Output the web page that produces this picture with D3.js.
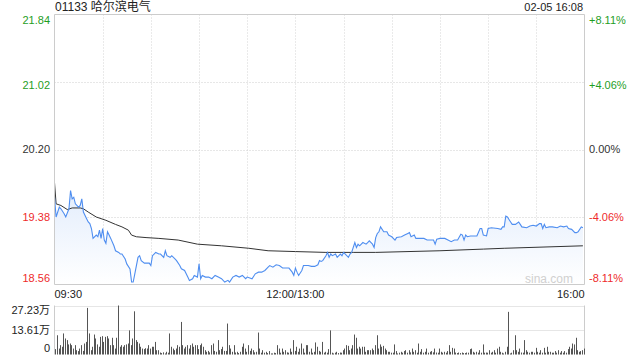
<!DOCTYPE html>
<html><head><meta charset="utf-8">
<script src="https://cdn.jsdelivr.net/npm/d3@7/dist/d3.min.js"></script>
<style>
html,body{margin:0;padding:0;background:#fff;}
svg{display:block;font-family:"Liberation Sans",Arial,sans-serif;}
</style></head>
<body><svg id="c" width="640" height="360"></svg>
<script>
const title = "01133 哈尔滨电气";
const stamp = "02-05 16:08";
const priceTicks = [21.84, 21.02, 20.20, 19.38, 18.56];
const priceTickLabels = ["21.84", "21.02", "20.20", "19.38", "18.56"];
const pctTickLabels = ["+8.11%", "+4.06%", "0.00%", "-4.06%", "-8.11%"];
const tickColors = ["#1f9e1f", "#1f9e1f", "#333333", "#ee2b2b", "#ee2b2b"];
const timeLabels = ["09:30", "12:00/13:00", "16:00"];
const timeLabelMinutes = [0, 150, 330];
const volTicks = [27.23, 13.61, 0];
const volTickLabels = ["27.23万", "13.61万", "0"];

// minute index (0..330) and price
const priceT = [0,1,3,4,6,7,9,10,11,12,13,15,16,17,18,20,21,22,23,24,26,27,28,29,30,31,32,33,34,35,37,38,40,41,42,44,45,47,48,49,50,52,53,54,56,57,59,60,61,62,63,65,66,68,69,70,72,73,75,76,78,79,81,83,84,86,87,89,90,91,92,94,96,98,100,102,104,106,108,109,111,113,115,117,119,120,123,125,127,129,131,133,134,136,138,140,142,144,146,148,149,150,151,152,154,155,158,160,162,164,165,166,167,169,170,171,172,173,175,176,178,179,180,183,184,185,187,188,189,190,192,194,195,196,198,199,200,201,202,203,205,207,208,210,212,213,216,218,220,221,222,224,225,228,230,232,234,236,237,238,240,243,245,247,249,251,253,254,255,256,257,259,261,263,265,266,267,269,270,272,276,278,279,280,281,282,284,285,287,289,290,291,294,296,298,300,302,303,304,305,306,308,310,313,315,317,319,320,322,324,325,326,328,329];
const priceV = [19.62,19.38,19.50,19.48,19.42,19.38,19.48,19.70,19.60,19.62,19.54,19.50,19.52,19.60,19.44,19.36,19.32,19.30,19.24,19.12,19.16,19.14,19.22,19.12,19.24,19.10,19.06,19.20,19.16,19.12,19.03,18.97,18.95,18.93,18.93,18.87,18.81,18.75,18.59,18.59,18.69,18.89,18.91,18.85,18.82,18.82,18.82,18.79,18.91,18.93,18.95,18.93,18.93,18.89,18.97,18.91,18.89,18.91,18.87,18.85,18.79,18.75,18.73,18.65,18.61,18.63,18.67,18.65,18.81,18.63,18.67,18.65,18.65,18.63,18.67,18.65,18.63,18.59,18.61,18.59,18.65,18.67,18.65,18.67,18.63,18.65,18.63,18.69,18.71,18.71,18.73,18.77,18.79,18.77,18.80,18.79,18.76,18.76,18.76,18.71,18.67,18.76,18.71,18.67,18.73,18.79,18.79,18.78,18.78,18.80,18.85,18.84,18.85,18.91,18.95,18.89,18.93,18.91,18.93,18.89,18.93,18.91,18.95,18.89,18.93,18.95,19.07,19.01,19.05,19.03,19.07,19.05,19.07,19.09,19.05,19.01,19.13,19.18,19.20,19.26,19.20,19.20,19.16,19.14,19.10,19.13,19.14,19.16,19.18,19.19,19.14,19.16,19.12,19.12,19.12,19.10,19.10,19.10,19.05,19.11,19.12,19.12,19.10,19.08,19.10,19.10,19.17,19.16,19.10,19.16,19.14,19.15,19.15,19.15,19.24,19.24,19.16,19.15,19.24,19.25,19.24,19.23,19.26,19.26,19.39,19.38,19.32,19.29,19.29,19.32,19.29,19.26,19.25,19.27,19.28,19.27,19.30,19.30,19.24,19.29,19.25,19.26,19.26,19.25,19.27,19.26,19.27,19.24,19.23,19.19,19.19,19.20,19.26,19.25];

const avgT = [0,1,4,8,11,16,18,21,26,32,38,42,46,48,51,57,65,77,89,104,121,133,150,169,186,200,240,267,280,329];
const avgV = [19.80,19.54,19.52,19.47,19.49,19.49,19.48,19.44,19.38,19.34,19.29,19.26,19.22,19.16,19.14,19.13,19.12,19.10,19.05,19.03,19.00,18.97,18.96,18.95,18.95,18.95,18.97,18.99,19.00,19.03];

// volume per minute (万股)
const volume = [
3.0,10.7,3.3,5.2,4.3,11.7,8.9,8.0,5.6,6.1,
5.2,3.3,5.2,2.4,1.9,3.3,5.2,2.0,6.1,7.0,
25.9,11.7,2.4,4.3,11.1,8.9,5.6,4.3,9.8,10.2,
7.0,9.8,10.2,8.9,5.2,9.3,5.2,3.3,9.3,27.23,
4.3,5.2,4.3,5.2,5.6,6.1,13.4,5.2,8.9,24.0,
8.0,7.0,6.1,4.3,3.3,3.0,3.5,3.3,5.2,3.3,
4.3,4.3,7.0,2.4,2.4,1.1,0.8,1.2,0.6,1.5,
1.0,11.7,4.3,3.3,2.4,3.3,5.2,4.3,18.1,5.2,
3.3,4.3,5.2,3.3,5.2,6.1,4.3,5.2,5.2,3.0,
5.2,6.1,4.3,2.4,1.5,2.0,1.2,5.2,6.1,2.0,
1.5,8.0,2.4,3.0,4.3,2.0,2.0,17.2,5.2,3.3,
1.5,5.2,1.1,1.5,0.8,1.5,4.3,6.1,3.3,1.5,
5.2,2.0,3.3,2.4,1.2,1.5,12.2,3.3,1.0,2.4,
1.0,1.5,0.8,1.9,0.6,0.6,1.0,0.8,5.2,3.3,
1.0,3.3,1.5,2.4,1.2,1.0,3.3,1.5,8.0,2.0,
4.3,1.5,3.3,6.1,3.3,1.0,5.2,5.2,1.5,3.3,
1.0,1.5,6.7,4.3,2.0,1.5,7.0,1.0,1.5,1.0,
3.0,13.4,1.0,0.6,1.0,1.5,0.8,1.1,1.0,2.4,
3.3,5.2,4.8,2.4,3.3,5.2,11.1,9.3,3.3,4.3,
3.3,4.3,4.3,1.5,2.4,2.4,2.4,3.3,2.4,5.2,
10.7,3.3,5.6,4.3,4.8,3.3,2.4,1.5,1.5,1.0,
1.0,5.6,1.9,0.6,1.0,1.5,1.0,1.9,2.4,1.0,
2.4,1.2,3.3,1.5,2.4,1.0,6.1,1.5,3.0,1.0,
1.5,3.3,1.0,1.5,1.9,1.2,3.3,1.1,1.0,3.3,
1.5,1.0,1.5,1.0,1.9,5.2,1.5,3.7,3.3,1.1,
0.8,1.1,0.8,1.1,0.8,0.8,1.1,1.0,3.0,3.3,
1.5,1.0,1.5,1.0,2.4,1.0,5.6,1.0,1.1,1.0,
2.4,1.0,1.5,2.4,1.0,3.3,4.3,1.5,1.0,0.6,
1.5,4.3,23.7,0.6,1.0,2.4,10.7,2.4,1.5,3.3,
1.1,1.0,8.0,2.4,1.5,1.0,1.5,1.5,1.0,3.7,
1.5,1.0,2.4,1.0,3.7,1.0,4.3,1.5,1.5,1.0,
1.0,1.9,1.0,2.4,1.0,1.9,1.0,1.9,1.0,3.0,
4.3,3.3,6.1,5.6,9.3,2.4,1.5,1.9,2.4,3.3
];

const svg = d3.select("#c");
const L = 54.5, R = 584.5, T = 14.5, B = 284.5;
const VT = 305.5, VB = 354.5;
const x = d3.scaleLinear().domain([0, 330]).range([L, R]);
const y = d3.scaleLinear().domain([18.56, 21.84]).range([B, T]);
const yv = d3.scaleLinear().domain([0, 27.23]).range([VB, VT]);

const defs = svg.append("defs");
const grad = defs.append("linearGradient").attr("id", "ag")
  .attr("gradientUnits", "userSpaceOnUse").attr("x1", 0).attr("x2", 0).attr("y1", 190).attr("y2", B);
grad.append("stop").attr("offset", 0).attr("stop-color", "#e3edfc");
grad.append("stop").attr("offset", 1).attr("stop-color", "#ffffff");

// grid
const grid = svg.append("g");
d3.range(1, 11).forEach(i => {
  const gx = Math.round(x(i * 30)) + 0.5;
  grid.append("line").attr("x1", gx).attr("x2", gx).attr("y1", T).attr("y2", B)
    .attr("stroke", "#d4d4d4").attr("stroke-dasharray", "1,2");
  grid.append("line").attr("x1", gx).attr("x2", gx).attr("y1", VT).attr("y2", VB)
    .attr("stroke", "#e6e6e6").attr("stroke-dasharray", "1,2").attr("opacity", 0);
});
priceTicks.slice(1, 4).forEach(p => {
  const gy = Math.round(y(p)) + 0.5;
  grid.append("line").attr("x1", L).attr("x2", R).attr("y1", gy).attr("y2", gy)
    .attr("stroke", "#cfcfcf").attr("stroke-dasharray", "1,2");
});

// area + lines
const pts = priceT.map((t, i) => [t, priceV[i]]);
svg.append("path").datum(pts)
  .attr("d", d3.area().x(d => x(d[0])).y0(B).y1(d => y(d[1])))
  .attr("fill", "url(#ag)");

svg.append("text").attr("x", 573).attr("y", 283).attr("text-anchor", "end")
  .attr("font-size", 12).attr("fill", "#d0d0d0").text("sina.com");

svg.append("path").datum(avgT.map((t, i) => [t, avgV[i]]))
  .attr("d", d3.line().x(d => x(d[0])).y(d => y(d[1])))
  .attr("fill", "none").attr("stroke", "#333").attr("stroke-width", 1);
svg.append("path").datum(pts)
  .attr("d", d3.line().x(d => x(d[0])).y(d => y(d[1])))
  .attr("fill", "none").attr("stroke", "#4f8ef0").attr("stroke-width", 1.1);

// frame
svg.append("path").attr("d", `M${L},${B}V${T}H${R}V${B}H${L}`)
  .attr("fill", "none").attr("stroke", "#cccccc");

// axis labels
const labOffsets = [6, 3, 0, 0, -6];
priceTicks.forEach((p, i) => {
  svg.append("text").attr("x", 50).attr("y", y(p) + labOffsets[i]).attr("dy", "0.35em")
    .attr("text-anchor", "end").attr("font-size", 11).attr("fill", tickColors[i]).text(priceTickLabels[i]);
  svg.append("text").attr("x", 589).attr("y", y(p) + labOffsets[i]).attr("dy", "0.35em")
    .attr("text-anchor", "start").attr("font-size", 11).attr("fill", tickColors[i]).text(pctTickLabels[i]);
});
const anchors = ["start", "middle", "end"];
timeLabels.forEach((s, i) => {
  svg.append("text").attr("x", x(timeLabelMinutes[i])).attr("y", 298)
    .attr("text-anchor", anchors[i]).attr("font-size", 11).attr("fill", "#222").text(s);
});

svg.append("text").attr("x", 55).attr("y", 11).attr("font-size", 12).attr("fill", "#222")
  .style("font-family", "'Liberation Sans','Noto Sans CJK SC',sans-serif").text(title);
svg.append("text").attr("x", 583).attr("y", 11).attr("text-anchor", "end")
  .attr("font-size", 11).attr("fill", "#222").text(stamp);

// volume panel
const vg = svg.append("g");
[volTicks[0], volTicks[1]].forEach(v => {
  const gy = Math.round(yv(v)) + 0.5;
  vg.append("line").attr("x1", L).attr("x2", R).attr("y1", gy).attr("y2", gy)
    .attr("stroke", "#cccccc").attr("stroke-dasharray", "1,1");
});
vg.append("line").attr("x1", L).attr("x2", L).attr("y1", VT).attr("y2", VB).attr("stroke", "#cccccc");
vg.append("line").attr("x1", R).attr("x2", R).attr("y1", VT).attr("y2", VB).attr("stroke", "#cccccc");
vg.selectAll("rect.v").data(volume).enter().append("rect")
  .attr("x", (d, i) => Math.round(x(i + 0.5)))
  .attr("width", 1)
  .attr("y", d => yv(d))
  .attr("height", d => VB - yv(d))
  .attr("fill", "#555");
const vOffsets = [5, 0, -6];
volTicks.forEach((v, i) => {
  vg.append("text").attr("x", 50).attr("y", yv(v) + vOffsets[i]).attr("dy", "0.35em")
    .attr("text-anchor", "end").attr("font-size", 11).attr("fill", "#222")
    .style("font-family", "'Liberation Sans','Noto Sans CJK SC',sans-serif").text(volTickLabels[i]);
});
</script></body></html>
